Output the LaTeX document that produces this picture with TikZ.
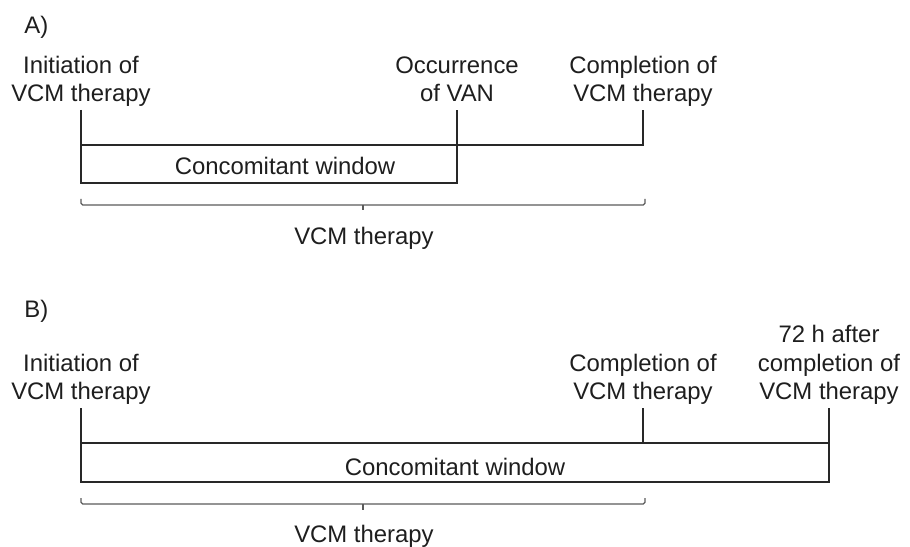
\documentclass[tikz,border=0pt]{standalone}
\usepackage{fontspec}
\setmainfont{Liberation Sans}
\begin{document}
\begin{tikzpicture}[x=0.02cm,y=-0.02cm]
\definecolor{linecolor}{RGB}{40,40,40}
\definecolor{bracecolor}{RGB}{90,90,90}
\definecolor{textcolor}{RGB}{30,30,30}
\tikzset{
  timeline/.style={line width=1.4pt,linecolor,line join=miter},
  bracket/.style={line width=0.7pt,bracecolor,rounded corners=1pt},
  event/.style={anchor=south,inner sep=0pt,align=center,text=textcolor,
    font=\fontsize{13.6}{16}\selectfont},
  caption/.style={anchor=base,inner sep=0pt,text=textcolor,
    font=\fontsize{13.6}{16}\selectfont},
  panel/.style={anchor=base west,inner sep=0pt,text=textcolor,
    font=\fontsize{13.6}{16}\selectfont}
}
\useasboundingbox (0,0) rectangle (910,547);
\coordinate (ainitT) at (81,110);
\coordinate (ainitM) at (81,145);
\coordinate (ainitB) at (81,183);
\coordinate (avanT) at (457,110);
\coordinate (avanB) at (457,183);
\coordinate (acompT) at (643,110);
\coordinate (acompM) at (643,145);
\coordinate (binitT) at (81,408);
\coordinate (binitM) at (81,443);
\coordinate (binitB) at (81,482);
\coordinate (bcompT) at (643,408);
\coordinate (bcompM) at (643,443);
\coordinate (bendT) at (829,408);
\coordinate (bendM) at (829,443);
\coordinate (bendB) at (829,482);
\node [panel] (alabel) at (24,34) {A)};
\node [event] (ainit) at (ainitT) {Initiation of\\VCM therapy\strut};
\node [event] (avan) at (avanT) {Occurrence\\of VAN\strut};
\node [event] (acomp) at (acompT) {Completion of\\VCM therapy\strut};
\draw [timeline] (ainitT) -- (ainitB) -- (avanB) -- (avanT);
\draw [timeline] (ainitM) -- (acompM) -- (acompT);
\node [caption] (awin) at (285,175) {Concomitant window};
\draw [bracket] (81,199) -- (81,205) -- (645,205) -- (645,199);
\draw [bracket] (363,205) -- (363,210);
\node [caption] (atherapy) at (364,245) {VCM therapy};
\node [panel] (blabel) at (24,317) {B)};
\node [event] (binit) at (binitT) {Initiation of\\VCM therapy\strut};
\node [event] (bcomp) at (bcompT) {Completion of\\VCM therapy\strut};
\node [event] (bend) at (bendT) {72 h after\\completion of\\VCM therapy\strut};
\draw [timeline] (binitT) -- (binitB) -- (bendB) -- (bendT);
\draw [timeline] (binitM) -- (bendM);
\draw [timeline] (bcompT) -- (bcompM);
\node [caption] (bwin) at (455,475) {Concomitant window};
\draw [bracket] (81,498) -- (81,504) -- (645,504) -- (645,498);
\draw [bracket] (363,504) -- (363,510);
\node [caption] (btherapy) at (364,542) {VCM therapy};
\end{tikzpicture}
\end{document}
